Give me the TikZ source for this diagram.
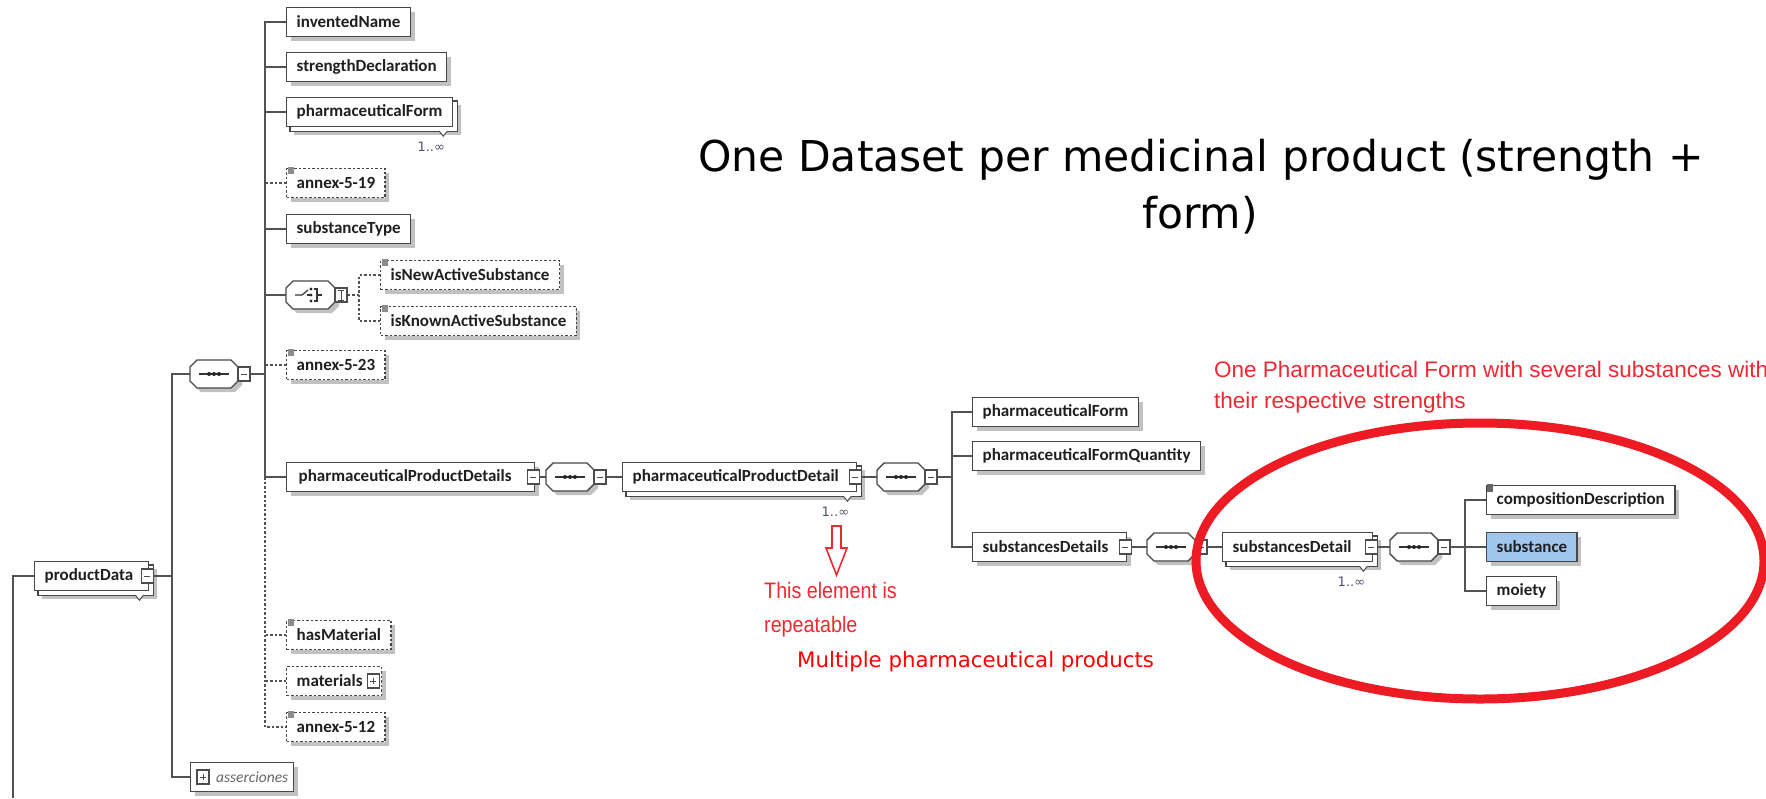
\documentclass[tikz,border=0pt]{standalone}
\usepackage{fontspec}
\setmainfont{Carlito}
\newfontfamily\djv{DejaVu Sans}
\newfontfamily\libs{Liberation Sans}
\newfontfamily\libn[FakeStretch=0.88]{Liberation Sans}
\usetikzlibrary{shadows,calc,backgrounds}
\definecolor{redA}{RGB}{237,28,36}
\definecolor{redT}{RGB}{240,40,50}
\definecolor{substC}{RGB}{160,198,240}
\definecolor{multC}{RGB}{80,80,110}
\newcommand\elf{\bfseries\fontsize{17}{19}\selectfont}
% sequence compositor: name, left x, centre y
\newcommand\seqat[3]{%
  \node[cmpn] (#1) at (#2+24,#3) {};
  \draw[octo] (#2,#3-7) -- (#2+7,#3-14) -- (#2+41,#3-14) -- (#2+48,#3-7) -- (#2+48,#3+7) -- (#2+41,#3+14) -- (#2+7,#3+14) -- (#2,#3+7) -- cycle;
  \draw[black!80,line width=1.2pt] (#2+9,#3) -- (#2+39,#3);
  \fill[black!85] (#2+19,#3) circle (2) (#2+24,#3) circle (2) (#2+29,#3) circle (2);
  \node[sbox] (#1b) at (#2+54,#3) {};
  \draw[black!70,line width=1pt] (#2+51,#3) -- (#2+57,#3);
}
\begin{document}
\begin{tikzpicture}[x=1pt,y=-1pt,
  conn/.style={draw=black!68,line width=1.5pt},
  dconn/.style={conn,dash pattern=on 2.5pt off 2pt},
  elb/.style={draw=black!72,line width=1.4pt,fill=white,font=\elf,text=black!88,minimum height=29pt,inner xsep=10pt,inner ysep=0pt,anchor=west},
  shd/.style={drop shadow={shadow xshift=4pt,shadow yshift=-4pt,fill=black!30,opacity=0.8}},
  el/.style={elb,shd},
  optel/.style={el,dash pattern=on 2.5pt off 2pt},
  back/.style={draw=black!72,line width=1.4pt,fill=white,shd},
  octo/.style={draw=black!72,line width=1.4pt,fill=white,shd},
  cmpn/.style={minimum width=48pt,minimum height=28pt,inner sep=0pt},
  sbox/.style={draw=black!70,line width=1.1pt,fill=white,minimum width=12pt,minimum height=14pt,inner sep=0pt},
  mult/.style={font=\djv\fontsize{13}{14}\selectfont,text=multC,anchor=base},
  icon/.style={fill=black!45},
  note/.style={text=redT,anchor=base west,inner sep=0pt}
]
\useasboundingbox (0,0) rectangle (1766,798);

% ---------- first-level column ----------
\node[el] (inv) at (286,22) {inventedName};
\node[el] (sdec) at (286,67) {strengthDeclaration};
\node[elb] (pf) at (286,112) {pharmaceuticalForm};
\node[optel] (a519) at (286,183) {annex-5-19};
\node[el] (stype) at (286,229) {substanceType};
% choice compositor
\node[cmpn] (ch) at (310,295) {};
\draw[octo] (286,288) -- (293,281) -- (328,281) -- (335,288) -- (335,302) -- (328,309) -- (293,309) -- (286,302) -- cycle;
\draw[black!80,line width=1.2pt] (295,295) -- (302,295) -- (308,290);
\fill[black!85] (311,289) circle (1.6) (311,295) circle (1.6) (311,301) circle (1.6);
\draw[black!80,line width=1.1pt] (307,295) -- (311,295) (314,289) -- (317,289) -- (317,301) -- (314,301) (317,295) -- (322,295);
\node[sbox] (chb) at (341,295) {};
\draw[black!70,line width=1pt] (341,290) -- (341,300) (338,290) -- (344,290) (338,300) -- (344,300);
\node[optel] (isnew) at (380,275) {isNewActiveSubstance};
\node[optel] (isknown) at (380,321) {isKnownActiveSubstance};
\node[optel] (a523) at (286,365) {annex-5-23};
\node[el,minimum width=248pt,text width=224pt] (ppds) at (286,477) {pharmaceuticalProductDetails};
\node[optel] (hasm) at (286,635) {hasMaterial};
\node[optel,minimum width=95pt,text width=75pt] (mats) at (286,681) {materials};
\node[optel] (a512) at (286,727) {annex-5-12};

% icons of optional items
\foreach \n in {a519,isnew,isknown,a523,hasm,a512}{
  \fill[icon] ($(\n.north west)+(2,-1)$) rectangle ++(6,7);
}
% plus box of materials
\node[sbox,fill=white] (matsb) at ($(mats.east)+(-9,0)$) {};
\draw[black!70,line width=1pt] ($(matsb.center)+(-3,0)$) -- ($(matsb.center)+(3,0)$) ($(matsb.center)+(0,-3)$) -- ($(matsb.center)+(0,3)$);

% repeated pharmaceuticalForm
\begin{scope}[on background layer]
  \draw[back] ($(pf.north west)+(4,4)$) rectangle ($(pf.south east)+(4,4)$);
\end{scope}
\draw[black!70,line width=1pt,fill=white] ($(pf.south east)+(-14,4)$) -- ($(pf.south east)+(-10,9)$) -- ($(pf.south east)+(-6,4)$);
\node[mult] (pfm) at ($(pf.south east)+(-22,24)$) {1..∞};

% ---------- productData ----------
\node[elb,minimum width=114pt,text width=94pt] (pd) at (34,576) {productData};
\begin{scope}[on background layer]
  \draw[back] ($(pd.north west)+(4,4)$) rectangle ($(pd.south east)+(4,4)$);
\end{scope}
\draw[black!70,line width=1pt,fill=white] ($(pd.south east)+(-14,4)$) -- ($(pd.south east)+(-10,9)$) -- ($(pd.south east)+(-6,4)$);
\node[sbox] (pdb) at ($(pd.east)+(-2,0)$) {};
\draw[black!70,line width=1pt] ($(pdb.center)+(-3,0)$) -- ($(pdb.center)+(3,0)$);

% main sequence of productData
\seqat{sq1}{190}{374}

% asserciones
\node[el,font=\itshape\fontsize{15.5}{18}\selectfont,text=black!60,minimum width=103pt,inner xsep=0pt,align=left] (ass) at (190,777) {\hspace{25pt}asserciones\hspace{5pt}};
\node[sbox] (assb) at ($(ass.west)+(13,0)$) {};
\draw[black!70,line width=1pt] ($(assb.center)+(-3,0)$) -- ($(assb.center)+(3,0)$) ($(assb.center)+(0,-3)$) -- ($(assb.center)+(0,3)$);

% ---------- pharmaceuticalProductDetails branch ----------
\node[sbox] (ppdsb) at ($(ppds.east)+(-2,0)$) {};
\draw[black!70,line width=1pt] ($(ppdsb.center)+(-3,0)$) -- ($(ppdsb.center)+(3,0)$);
\seqat{sq2}{546}{477}
\node[elb,minimum width=234pt,text width=214pt] (ppd) at (622,477) {pharmaceuticalProductDetail};
\begin{scope}[on background layer]
  \draw[back] ($(ppd.north west)+(4,4)$) rectangle ($(ppd.south east)+(4,4)$);
\end{scope}
\draw[black!70,line width=1pt,fill=white] ($(ppd.south east)+(-14,4)$) -- ($(ppd.south east)+(-10,9)$) -- ($(ppd.south east)+(-6,4)$);
\node[sbox] (ppdb) at ($(ppd.east)+(-2,0)$) {};
\draw[black!70,line width=1pt] ($(ppdb.center)+(-3,0)$) -- ($(ppdb.center)+(3,0)$);
\node[mult] (ppdm) at ($(ppd.south east)+(-22,24)$) {1..∞};
\seqat{sq3}{877}{477}

\node[el] (pf2) at (972,412) {pharmaceuticalForm};
\node[el] (pfq) at (972,456) {pharmaceuticalFormQuantity};
\node[el,minimum width=154pt,text width=134pt] (sds) at (972,547) {substancesDetails};
\node[sbox] (sdsb) at ($(sds.east)+(-2,0)$) {};
\draw[black!70,line width=1pt] ($(sdsb.center)+(-3,0)$) -- ($(sdsb.center)+(3,0)$);
\seqat{sq4}{1147}{547}
\node[elb,minimum width=150pt,text width=130pt] (sd) at (1222,547) {substancesDetail};
\begin{scope}[on background layer]
  \draw[back] ($(sd.north west)+(4,4)$) rectangle ($(sd.south east)+(4,4)$);
\end{scope}
\draw[black!70,line width=1pt,fill=white] ($(sd.south east)+(-14,4)$) -- ($(sd.south east)+(-10,9)$) -- ($(sd.south east)+(-6,4)$);
\node[sbox] (sdb) at ($(sd.east)+(-2,0)$) {};
\draw[black!70,line width=1pt] ($(sdb.center)+(-3,0)$) -- ($(sdb.center)+(3,0)$);
\node[mult] (sdm) at ($(sd.south east)+(-22,24)$) {1..∞};
\seqat{sq5}{1390}{547}

\node[el] (cdesc) at (1486,500) {compositionDescription};
\fill[black!60] ($(cdesc.north west)+(1,-1)$) rectangle ++(6,8);
\node[el,fill=substC] (subst) at (1486,547) {substance};
\node[el] (moiety) at (1486,591) {moiety};

% ---------- connectors ----------
\coordinate (vA) at (265,477);
\coordinate (vS) at (265,374);
\coordinate (vL) at (172,576);
\coordinate (pdBot) at (13,798);
\coordinate (vB) at (952,477);
\coordinate (vC) at (359,295);
\coordinate (vD) at (1465,547);

\draw[conn] (pdBot) |- (pd.west);
\draw[conn] (pdb.east) -- (vL);
\draw[conn] (sq1.west) -| (vL) |- (ass.west);
\draw[conn] (sq1b.east) -- (vS);
\draw[conn] (inv.west) -| (vA) -- (ppds.west);
\draw[conn] (sdec.west) -- (sdec.west -| vA);
\draw[conn] (pf.west) -- (pf.west -| vA);
\draw[conn] (stype.west) -- (stype.west -| vA);
\draw[conn] (ch.west) -- (ch.west -| vA);
\draw[dconn] (a519.west) -- (a519.west -| vA);
\draw[dconn] (a523.west) -- (a523.west -| vA);
\draw[dconn] (vA) |- (a512.west);
\draw[dconn] (hasm.west) -- (hasm.west -| vA);
\draw[dconn] (mats.west) -- (mats.west -| vA);
\draw[dconn] (chb.east) -- (vC);
\draw[dconn] (isnew.west) -| (vC) |- (isknown.west);

\draw[conn] (ppdsb.east) -- (sq2.west);
\draw[conn] (sq2b.east) -- (ppd.west);
\draw[conn] (ppdb.east) -- (sq3.west);
\draw[conn] (sq3b.east) -- (vB);
\draw[conn] (pf2.west) -| (vB) |- (sds.west);
\draw[conn] (pfq.west) -- (pfq.west -| vB);
\draw[conn] (sdsb.east) -- (sq4.west);
\draw[conn] (sq4b.east) -- (sd.west);
\draw[conn] (sdb.east) -- (sq5.west);
\draw[conn] (sq5b.east) -- (vD);
\draw[conn] (cdesc.west) -| (vD) |- (moiety.west);
\draw[conn] (subst.west) -- (vD);

% ---------- annotations ----------
\node[font=\djv\fontsize{42.5}{48}\selectfont,anchor=base,inner sep=0pt] (t1) at (1201,171) {One Dataset per medicinal product (strength +};
\node[font=\djv\fontsize{42.5}{48}\selectfont,anchor=base,inner sep=0pt] (t2) at (1200,228) {form)};

\node[note,font=\libs\fontsize{22.5}{26}\selectfont] (n1) at (1214,377) {One Pharmaceutical Form with several substances with};
\node[note,font=\libs\fontsize{22.5}{26}\selectfont] (n2) at (1214,408) {their respective strengths};

\node[note,font=\libn\fontsize{22.4}{26}\selectfont] (r1) at (764,598) {This element is};
\node[note,font=\libn\fontsize{22.4}{26}\selectfont] (r2) at (764,632) {repeatable};
\node[note,text=red,font=\djv\fontsize{21.3}{24}\selectfont] (mp) at (797,667) {Multiple pharmaceutical products};

\draw[redT,line width=1.6pt,fill=white] (832,526) -- (841,526) -- (841,548) -- (847,548) -- (836.5,575) -- (826,548) -- (832,548) -- cycle;

\draw[redA,line width=9pt] (1480,561) ellipse [x radius=284, y radius=138];
\end{tikzpicture}
\end{document}
